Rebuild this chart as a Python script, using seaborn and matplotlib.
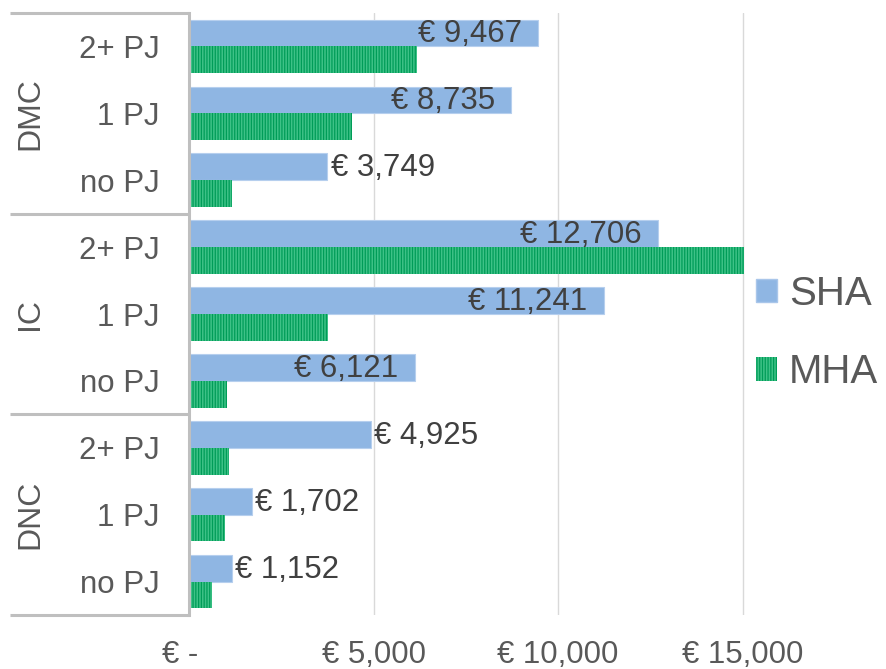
import numpy as np
import pandas as pd
import matplotlib
matplotlib.use("Agg")
import matplotlib.pyplot as plt
import matplotlib.patches as mpatches
import matplotlib.transforms as mtrans
import seaborn as sns

# ── data ──────────────────────────────────────────────────────
groups     = ['DMC', 'DMC', 'DMC', 'IC', 'IC', 'IC', 'DNC', 'DNC', 'DNC']
subgroups  = ['2+ PJ', '1 PJ', 'no PJ'] * 3
sha_values = [9467, 8735, 3749, 12706, 11241, 6121, 4925, 1702, 1152]
mha_values = [6170, 4410, 1170, 15050, 3760, 1030, 1080, 970, 620]
series     = ['SHA', 'MHA']
x_ticks    = [0, 5000, 10000, 15000]
x_labels   = ['€ -  ', '€ 5,000', '€ 10,000', '€ 15,000']

keys = [f'{g}|{s}' for g, s in zip(groups, subgroups)]
df = pd.DataFrame({
    'key':    keys * 2,
    'value':  sha_values + mha_values,
    'series': ['SHA'] * len(keys) + ['MHA'] * len(keys),
})

SHA_COLOR  = '#8FB6E3'
MHA_COLOR  = '#3EC287'
MHA_STRIPE = '#009C58'
LINE_GRAY  = '#BFBFBF'
TEXT_GRAY  = '#595959'
TEXT_DARK  = '#404040'

sns.set_style('white')
plt.rcParams['font.family'] = ['Liberation Sans', 'DejaVu Sans']
plt.rcParams['hatch.linewidth'] = 0.9

fig = plt.figure(figsize=(8.86, 6.69), dpi=100)
ax = fig.add_axes([189/886, 1 - 615/669, (750 - 189)/886, (615 - 13)/669])

sns.barplot(data=df, x='value', y='key', hue='series', orient='h',
            hue_order=series, palette=[SHA_COLOR, MHA_COLOR],
            saturation=1, width=0.8, ax=ax)
ax.legend_.remove()

# styling of bars
for bar in ax.containers[0]:
    bar.set_edgecolor('#B6CFEE')
    bar.set_linewidth(0.8)
for bar in ax.containers[1]:
    bar.set_hatch('||||||')
    bar.set_edgecolor(MHA_STRIPE)
    bar.set_linewidth(0)

ax.set_xlim(0, 15200)
ax.set_ylim(len(keys) - 0.5, -0.5)
ax.set_xticks(x_ticks)
ax.set_xticklabels(x_labels, fontsize=22.5, color=TEXT_GRAY)
ax.set_yticks(range(len(keys)))
ax.set_yticklabels(subgroups, fontsize=22.5, color=TEXT_GRAY)
ax.tick_params(axis='x', length=0, pad=18)
ax.tick_params(axis='y', length=0, pad=21)
ax.set_xlabel('')
ax.set_ylabel('')
ax.grid(axis='x', color='#D9D9D9', linewidth=1.0)
ax.set_axisbelow(True)
for side in ['top', 'right', 'bottom']:
    ax.spines[side].set_visible(False)
ax.spines['left'].set_color(LINE_GRAY)
ax.spines['left'].set_linewidth(2.2)

# data labels (SHA only)
for bar, val in zip(ax.containers[0], sha_values):
    yc = bar.get_y() + bar.get_height() / 2
    if val >= 6000:
        ax.annotate(f'€ {val:,}', (val, yc), xytext=(-12, -1),
                    textcoords='offset points', ha='right', va='center',
                    fontsize=22.5, color=TEXT_DARK)
    else:
        ax.annotate(f'€ {val:,}', (val, yc), xytext=(2.5, -1),
                    textcoords='offset points', ha='left', va='center',
                    fontsize=22.5, color=TEXT_DARK)

# group separators and group labels
trans = mtrans.blended_transform_factory(fig.transFigure, ax.transData)
for yb in [-0.5, 2.5, 5.5, 8.5]:
    ax.plot([10/886, 189/886], [yb, yb], transform=trans, color=LINE_GRAY,
            linewidth=2.2, clip_on=False, solid_capstyle='butt')
for i, g in enumerate(['DMC', 'IC', 'DNC']):
    ax.text(30/886, 3 * i + 1, g, transform=trans, rotation=90,
            ha='center', va='center', fontsize=23, color=TEXT_GRAY)

# legend
handles = [mpatches.Patch(facecolor=SHA_COLOR, edgecolor='#A9C6EA', label='SHA'),
           mpatches.Patch(facecolor=MHA_COLOR, edgecolor=MHA_STRIPE,
                          hatch='||||||', linewidth=0, label='MHA')]
fig.legend(handles=handles, loc='center left', bbox_to_anchor=(756/886, 1 - 333/669),
           frameon=False, fontsize=29, labelcolor=TEXT_GRAY,
           handlelength=0.52, handleheight=0.52, handletextpad=0.3,
           labelspacing=1.0, borderpad=0, borderaxespad=0)

fig.savefig('out.png', dpi=100)
